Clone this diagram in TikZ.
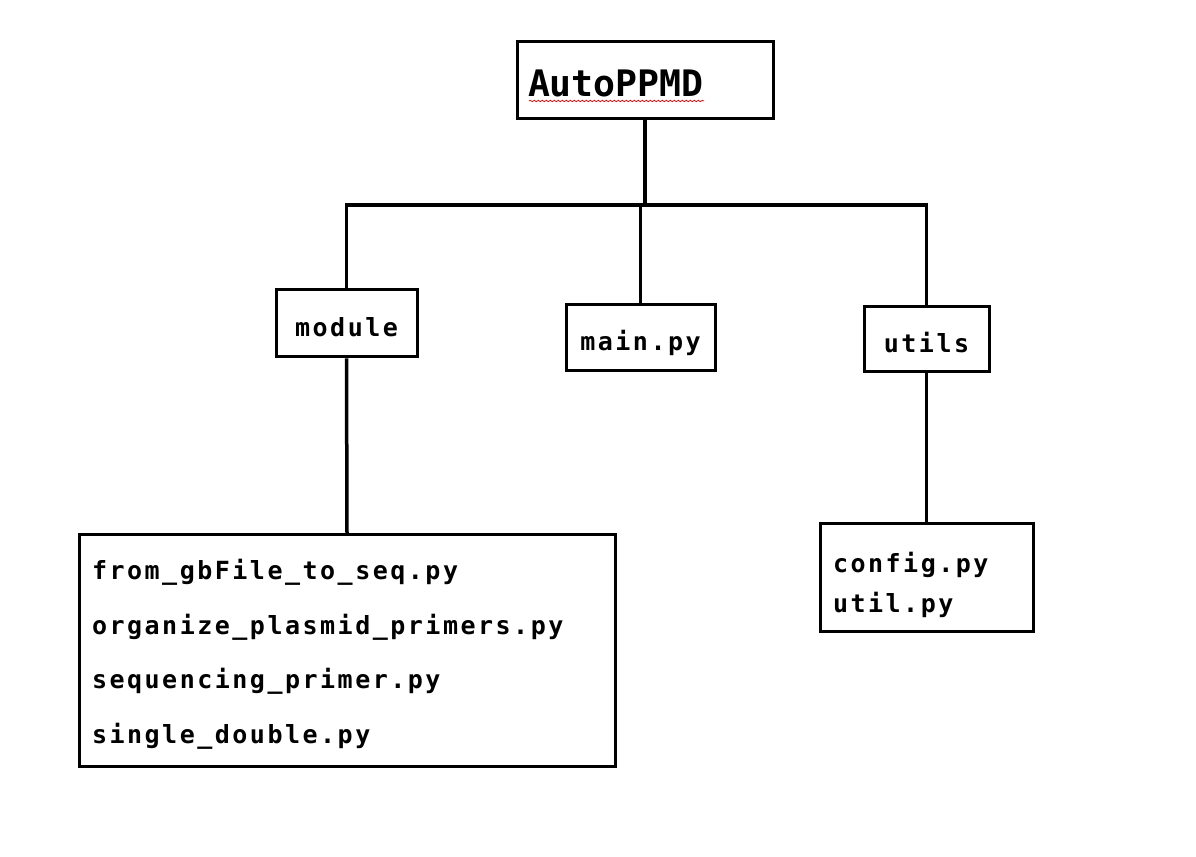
\documentclass[tikz,border=0pt]{standalone}
\usepackage{fontspec}
\setmainfont[LetterSpace=10]{DejaVu Sans Mono}
\newfontfamily\titlefont{DejaVu Sans Mono}
\usetikzlibrary{decorations.pathmorphing}

\begin{document}
\begin{tikzpicture}[line join=miter,
  box/.style={draw,line width=3bp,inner sep=0bp,font=\fontsize{25bp}{29bp}\selectfont\bfseries},
  dirbox/.style={box,text height=26bp,text depth=0bp},
  filebox/.style={box,inner xsep=13bp,align=left},
  link/.style={line width=3.5bp},
]
\useasboundingbox (0bp,0bp) rectangle (1196bp,857bp);
%%
\node (root) at (645bp,776.5bp) [box,minimum width=256bp,minimum height=77bp,inner xsep=11bp,text width=234bp,align=left,text height=33bp,text depth=0bp,font=\titlefont\fontsize{36.5bp}{40bp}\selectfont\bfseries] {AutoPPMD};
  \node (module) at (346.5bp,533.5bp) [dirbox,minimum width=141bp,minimum height=67bp] {module};
  \node (mainpy) at (640.5bp,519bp) [dirbox,minimum width=149bp,minimum height=66bp] {main.py};
  \node (utils) at (926.5bp,517.5bp) [dirbox,minimum width=125bp,minimum height=65bp] {utils};
  \node (modfiles) at (347bp,206bp) [filebox,minimum width=536bp,minimum height=232bp,text width=510bp,font=\fontsize{25bp}{54.5bp}\selectfont\bfseries] {\rule{0pt}{27.4bp}from\_gbFile\_to\_seq.py\\organize\_plasmid\_primers.py\\sequencing\_primer.py\\single\_double.py};
  \node (utilfiles) at (926.5bp,279bp) [filebox,minimum width=213bp,minimum height=108bp,text width=187bp,font=\fontsize{25bp}{40bp}\selectfont\bfseries] {\rule{0pt}{33.7bp}config.py\\util.py};
  \coordinate (fork) at (645bp,652bp);
  \draw [link] (root.south) -- (fork);
  \draw [link] (module.north) |- (fork) -| (utils.north);
  \draw [link] (mainpy.north) -- (mainpy.north |- fork);
  \draw [link] (module.south) -- (modfiles.north);
  \draw [link] (utils.south) -- (utilfiles.north);
  \draw [red,line width=0.7bp,decorate,decoration={snake,segment length=4bp,amplitude=0.8bp}] (529bp,756bp) -- (704bp,756bp);
%
\end{tikzpicture}
\end{document}
